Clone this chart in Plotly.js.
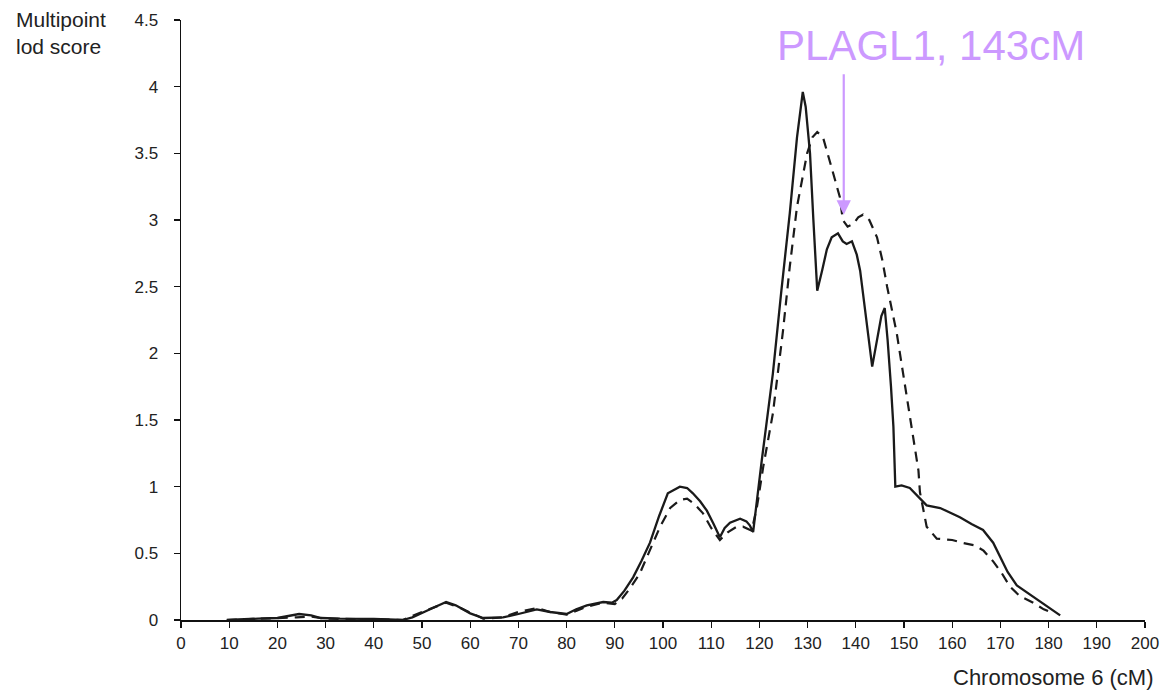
<!DOCTYPE html>
<html>
<head>
<meta charset="utf-8">
<script src="https://cdn.plot.ly/plotly-3.0.1.min.js"></script>
<style>html,body{margin:0;padding:0;background:#fff;}#chart{width:1163px;height:690px;}</style>
</head>
<body>
<div id="chart"></div>
<script>
// Solid curve (multipoint LOD score)
const solidX = [9.5,12,16,20,22,24.5,27,29,33,40,46,48,51,55,57,60,62.7,66.8,70,73.8,76.6,80,82,84.2,87.6,89.4,90.4,92,93.8,95.5,97.3,99.2,101,103.5,105,106.2,107.7,109.1,110.5,111.8,112.8,113.9,116,117.3,118,118.7,120.5,122.8,124.5,126.3,127.8,129,129.6,130.5,131.2,132,133,134,135,136.3,137.3,138.1,139.2,140.2,140.9,142.2,143.4,144.5,145.3,146,146.6,147.3,147.8,148.2,149.5,151.2,152.5,153.5,154.7,157.5,160,161.6,164,166.4,168.5,170,171.5,173.4,175,178,180.5,182.4];
const solidY = [0.0,0.005,0.01,0.015,0.03,0.045,0.035,0.015,0.01,0.008,0.0,0.02,0.07,0.135,0.11,0.05,0.015,0.02,0.045,0.08,0.06,0.045,0.08,0.11,0.135,0.13,0.15,0.22,0.32,0.44,0.58,0.78,0.95,1.0,0.99,0.95,0.89,0.82,0.72,0.62,0.69,0.73,0.76,0.74,0.71,0.66,1.2,1.85,2.45,3.05,3.62,3.96,3.85,3.5,3.0,2.47,2.62,2.78,2.87,2.9,2.84,2.82,2.84,2.74,2.62,2.25,1.9,2.12,2.28,2.34,2.1,1.75,1.45,1.0,1.01,0.99,0.94,0.9,0.86,0.84,0.8,0.77,0.72,0.675,0.58,0.47,0.36,0.26,0.22,0.14,0.08,0.035];
// Dashed curve
const dashX = [9.5,16,20,24,27,30,40,46,50,55,58,62.7,66.8,70,73.8,76.6,80,84.2,87.6,90,91.5,93.2,95.2,97.3,99.4,101.5,103.5,105,106.5,108.3,110,111.8,113.5,115.3,116.6,118.4,119.5,120.8,122.8,124.9,126.3,127.8,129.9,131,132,133.2,134.6,135.7,136.7,137.3,138.3,139.5,140.5,141.5,142.8,144.4,145.5,146.5,148.5,150.6,151.9,153,153.3,154.7,156.8,160,162,164.7,166.5,168.5,170.3,172,174,176.8,179,181];
const dashY = [0.0,0.008,0.01,0.02,0.025,0.01,0.005,0.0,0.06,0.13,0.09,0.01,0.02,0.06,0.09,0.06,0.04,0.1,0.13,0.12,0.16,0.24,0.35,0.52,0.70,0.84,0.9,0.91,0.87,0.8,0.69,0.6,0.66,0.70,0.70,0.67,0.85,1.15,1.55,2.17,2.65,3.1,3.5,3.62,3.66,3.62,3.45,3.3,3.17,3.0,2.95,2.97,3.02,3.04,3.0,2.87,2.7,2.5,2.15,1.67,1.37,1.12,0.96,0.70,0.61,0.6,0.58,0.56,0.52,0.44,0.35,0.25,0.18,0.13,0.08,0.05];

const markerX = 137.5;
const markerY = 3.04;
const markerLabel = 'PLAGL1, 143cM';
const yTitle = 'Multipoint<br>lod score';
const xTitle = 'Chromosome 6 (cM)';

const FONT = '"Liberation Sans", Arial, Helvetica, sans-serif';

const traces = [
  {x: solidX, y: solidY, type: 'scatter', mode: 'lines', line: {color: '#1a1a1a', width: 2.3}, hoverinfo: 'skip'},
  {x: dashX, y: dashY, type: 'scatter', mode: 'lines', line: {color: '#1a1a1a', width: 2.2, dash: '10px,7px'}, hoverinfo: 'skip'}
];

const axisCommon = {
  showgrid: false, zeroline: false, showline: true, linecolor: '#111', linewidth: 1.5,
  ticks: 'outside', ticklen: 6, tickwidth: 1.3, tickcolor: '#111',
  tickfont: {family: FONT, size: 17, color: '#222'}, fixedrange: true
};

const layout = {
  width: 1163, height: 690,
  margin: {l: 181, r: 18, t: 20, b: 70},
  paper_bgcolor: '#fff', plot_bgcolor: '#fff',
  showlegend: false,
  xaxis: Object.assign({}, axisCommon, {range: [0, 200], dtick: 10, tick0: 0, ticklabelstandoff: 1}),
  yaxis: Object.assign({}, axisCommon, {range: [0, 4.5], dtick: 0.5, tick0: 0, ticklabelstandoff: 12}),
  annotations: [
    {x: markerX, y: markerY, xref: 'x', yref: 'y', text: '', showarrow: true,
     ax: 0, ay: -142, arrowhead: 2, arrowsize: 1.3, arrowwidth: 2.2, arrowcolor: '#cc99ff'},
    {x: 0.778, y: 0.957, xref: 'paper', yref: 'paper', text: markerLabel, showarrow: false,
     xanchor: 'center', yanchor: 'middle', font: {family: FONT, size: 42, color: '#cc99ff'}},
    {x: -0.173, y: 1.024, xref: 'paper', yref: 'paper', text: yTitle, showarrow: false,
     xanchor: 'left', yanchor: 'top', align: 'left', font: {family: FONT, size: 21, color: '#222'}},
    {x: 1.0104, y: -0.095, xref: 'paper', yref: 'paper', text: xTitle, showarrow: false,
     xanchor: 'right', yanchor: 'middle', font: {family: FONT, size: 22, color: '#222'}}
  ]
};

Plotly.newPlot('chart', traces, layout, {staticPlot: true, displayModeBar: false});
</script>
</body>
</html>
